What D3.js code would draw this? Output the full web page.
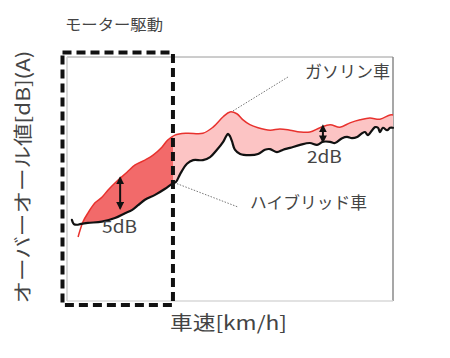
<!DOCTYPE html>
<html><head><meta charset="utf-8">
<script src="https://cdn.jsdelivr.net/npm/d3@7"></script>
<style>
html,body{margin:0;padding:0;background:#fff;}
svg{display:block;}
text{font-family:"Noto Sans CJK JP","Noto Sans",sans-serif;fill:#444;}
</style></head>
<body>
<svg id="chart" width="450" height="358"></svg>
<script>
// ---- data (speed in % of range, level in dB) ----
const gasSpeed = [3.4,4.0,4.9,6.4,8.6,10.7,12.6,15.6,18.4,20.9,23.9,26.4,29.1,30.9,33.1,36.8,41.7,44.8,47.9,50.0,52.1,54.0,56.1,58.6,62.3,65.3,68.4,71.5,74.5,77.6,80.7,83.7,86.8,89.9,92.9,96.0,99.1,100];
const gasLevel = [50.5,51.6,53.0,54.4,56.1,57.0,58.2,59.8,61.1,62.3,63.1,63.9,65.2,66.4,67.2,67.5,67.5,68.5,70.2,71.0,70.7,69.7,68.9,68.4,68.0,68.2,68.0,67.7,67.7,68.4,68.9,68.5,69.2,69.7,70.0,69.8,70.5,70.5];
const hybSpeed = [1.5,2.1,3.1,4.0,6.4,10.7,14.7,17.8,19.9,21.8,23.9,27.0,30.1,32.2,33.4,34.7,36.8,38.7,41.7,43.9,46.0,47.9,48.8,49.4,50.0,50.6,51.5,53.1,56.1,58.6,60.7,62.3,64.4,66.3,68.4,71.5,74.5,76.7,78.5,80.7,82.2,84.4,85.9,87.4,89.0,90.5,91.4,92.3,93.6,94.5,95.4,96.0,96.9,98.2,99.1,100];
const hybLevel = [53.3,52.6,52.5,52.6,52.8,53.0,53.6,54.4,54.9,55.7,56.6,57.4,58.4,59.2,59.5,60.8,62.5,63.1,63.1,63.6,64.8,66.1,67.0,67.4,67.0,66.2,64.8,64.1,63.9,64.1,64.8,64.9,64.4,64.8,65.1,65.6,65.9,65.6,66.1,66.1,65.9,66.7,66.9,66.7,66.9,67.5,67.7,67.2,68.0,68.5,68.4,67.7,68.4,68.0,68.4,68.4];
const motorEnd = 32.5;          // end of motor-drive region
const diff5 = {speed:16.3, lo:55.2, hi:60.2, label:"5dB"};
const diff2 = {speed:78.5, lo:66.1, hi:68.7, label:"2dB"};
const labels = {title:"モーター駆動", gas:"ガソリン車", hyb:"ハイブリッド車", x:"車速[km/h]", y:"オーバーオール値[dB](A)"};

const svg = d3.select("#chart");
const x = d3.scaleLinear().domain([0,100]).range([67,393]);
const y = d3.scaleLinear().domain([40,80]).range([301,57]);

const gas = gasSpeed.map((s,i)=>[x(s), y(gasLevel[i])]);
const hyb = hybSpeed.map((s,i)=>[x(s), y(hybLevel[i])]);
const curve = d3.curveCatmullRom.alpha(0.5);
const line = d3.line().curve(curve);

// frame
svg.append("line").attr("x1",x(0)).attr("x2",x(100)).attr("y1",y(80)).attr("y2",y(80)).attr("stroke","#9a9a9a").attr("stroke-width",1);
svg.append("line").attr("x1",x(100)).attr("x2",x(100)).attr("y1",y(80)).attr("y2",y(40)).attr("stroke","#8a8a8a").attr("stroke-width",1.5);
svg.append("line").attr("x1",x(0)).attr("x2",x(100)).attr("y1",y(40)).attr("y2",y(40)).attr("stroke","#d8d8d8").attr("stroke-width",1.5);
svg.append("line").attr("x1",x(0)).attr("x2",x(0)).attr("y1",y(80)).attr("y2",y(40)).attr("stroke","#cccccc").attr("stroke-width",1.5);

// fill between curves
const gasF = gas.filter((p,i)=>gasSpeed[i]>=4.9);
const hybF = hyb.filter((p,i)=>hybSpeed[i]>=4.0).reverse();
const areaPath = line(gasF) + "L" + line(hybF).slice(1) + "Z";
const defs = svg.append("defs");
defs.append("clipPath").attr("id","cl").append("rect").attr("x",0).attr("y",0).attr("width",x(motorEnd)).attr("height",358);
defs.append("clipPath").attr("id","cr").append("rect").attr("x",x(motorEnd)).attr("y",0).attr("width",450).attr("height",358);
svg.append("path").attr("d",areaPath).attr("fill","#f26a6a").attr("clip-path","url(#cl)");
svg.append("path").attr("d",areaPath).attr("fill","#fcc4c4").attr("clip-path","url(#cr)");

// lines
svg.append("path").attr("d",line(gas)).attr("fill","none").attr("stroke","#e8322e").attr("stroke-width",1.5);
svg.append("path").attr("d",line(hyb)).attr("fill","none").attr("stroke","#111").attr("stroke-width",2.2).attr("stroke-linejoin","round").attr("stroke-linecap","round");

// arrows
defs.append("marker").attr("id","ah").attr("viewBox","0 0 10 10").attr("refX",8).attr("refY",5)
  .attr("markerWidth",4).attr("markerHeight",4).attr("orient","auto-start-reverse")
  .append("path").attr("d","M0,0L10,5L0,10Z").attr("fill","#111");
[diff5,diff2].forEach(d=>{
  svg.append("line").attr("x1",x(d.speed)).attr("x2",x(d.speed)).attr("y1",y(d.lo)).attr("y2",y(d.hi))
    .attr("stroke","#111").attr("stroke-width",2).attr("marker-start","url(#ah)").attr("marker-end","url(#ah)");
});
const T = (sel)=>sel.attr("lengthAdjust","spacingAndGlyphs");
T(svg.append("text").attr("x",x(diff5.speed)-18).attr("y",233).attr("font-size",17).attr("textLength",35).text(diff5.label));
T(svg.append("text").attr("x",x(diff2.speed)-16).attr("y",163).attr("font-size",17).attr("textLength",35).text(diff2.label));

// leader lines
const gasPeak = gas[gasLevel.indexOf(d3.max(gasLevel))];
svg.append("line").attr("x1",gasPeak[0]+3).attr("y1",gasPeak[1]-1).attr("x2",288).attr("y2",77)
  .attr("stroke","#777").attr("stroke-width",1).attr("stroke-dasharray","1.5,1.5");
svg.append("line").attr("x1",x(motorEnd)+4).attr("y1",y(59.4)+1).attr("x2",238).attr("y2",207)
  .attr("stroke","#777").attr("stroke-width",1).attr("stroke-dasharray","1.5,1.5");
T(svg.append("text").attr("x",305).attr("y",78).attr("font-size",16.5).attr("textLength",85).text(labels.gas));
T(svg.append("text").attr("x",250).attr("y",209).attr("font-size",16.5).attr("textLength",117).text(labels.hyb));

// motor drive dashed box
svg.append("rect").attr("x",x(0)-4.5).attr("y",y(80)-4.5).attr("width",x(motorEnd)-x(0)+4.5).attr("height",y(40)-y(80)+8.5)
  .attr("fill","none").attr("stroke","#111").attr("stroke-width",4).attr("stroke-dasharray","9,5").attr("stroke-linejoin","round");
T(svg.append("text").attr("x",65).attr("y",29.5).attr("font-size",15).attr("textLength",98).text(labels.title));

// axis labels
T(svg.append("text").attr("x",170).attr("y",330).attr("font-size",19).attr("textLength",117).text(labels.x));
T(svg.append("text").attr("transform","translate(21,177) rotate(-90)").attr("text-anchor","middle").attr("dominant-baseline","central")
  .attr("font-size",19).attr("textLength",253).text(labels.y));
</script>
</body></html>
